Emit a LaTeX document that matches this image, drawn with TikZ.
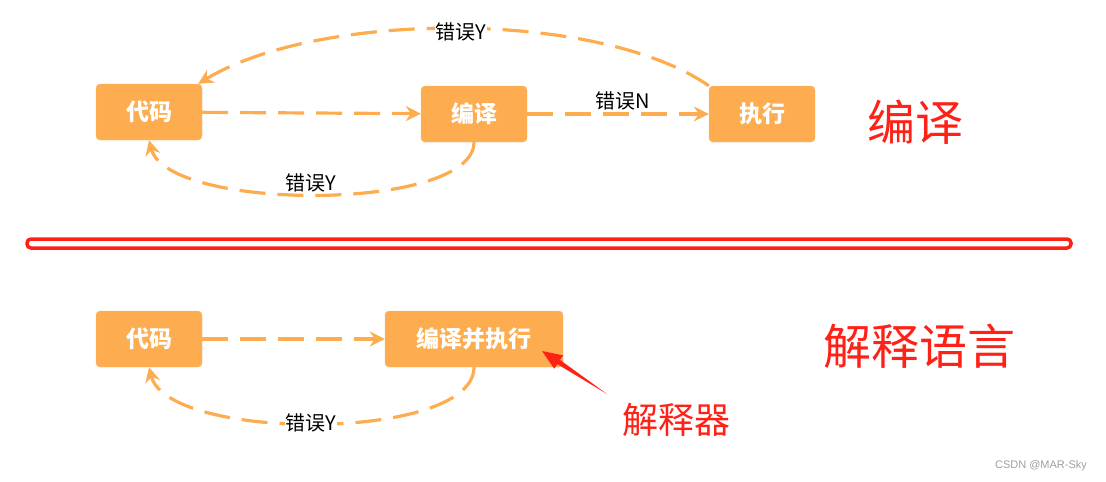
\documentclass[tikz,border=0pt]{standalone}
\usepackage{fontspec}
\usepackage{tikz}
\usetikzlibrary{arrows.meta,calc}
\setmainfont{Liberation Sans}
\newfontfamily\cjk{Noto Sans CJK SC}
\definecolor{boxorange}{RGB}{253,172,79}
\definecolor{markred}{RGB}{255,32,22}

\tikzset{
  stepbox/.style={fill=boxorange, draw=boxorange!85!white, rounded corners=4pt, minimum height=56pt,
    inner sep=0pt, text=white, font=\cjk\bfseries\fontsize{23}{23}\selectfont},
  flow/.style={boxorange, line width=3.2pt, dash pattern=on 26pt off 12pt,
    -{Stealth[length=15pt,width=15pt,inset=5pt]}},
  errlabel/.style={fill=white, inner sep=1pt, font=\cjk\fontsize{20}{20}\selectfont},
  bigred/.style={text=markred, font=\cjk\fontsize{48}{48}\selectfont},
}

\begin{document}
\begin{tikzpicture}[x=1pt, y=-1pt]
\useasboundingbox (0,0) rectangle (1106,482);

% compiled language
\node[stepbox, minimum width=106pt] (code) at (149,112) {代码};
\node[stepbox, minimum width=106pt] (compile) at (474,114) {编译};
\node[stepbox, minimum width=106pt] (run) at (762,114) {执行};
\node[bigred] (compname) at (915,122) {编译};

\draw[flow] (code) -- (compile);
\draw[flow] (compile) -- (run);
\draw[flow] (run.north west) .. controls (600,10) and (320,10) .. ([xshift=-4pt]code.north east);
\draw[flow] (compile.south) .. controls (474,212) and (168,212) .. (code.south);

\node[errlabel] (errtop) at (461,32) {错误Y};
\node[font=\cjk\fontsize{20}{20}\selectfont] (errn) at (623,101) {错误N};
\node[errlabel] (errback) at (311,183) {错误Y};

% separator
\draw[markred, line width=3.5pt, rounded corners=4pt] (27,239) rectangle (1071,248);

% interpreted language
\node[stepbox, minimum width=178pt] (interp) at (474,339) {编译并执行};
\node[stepbox, minimum width=106pt] (code2) at (149,339) {代码};
\node[bigred] (intname) at (919,346) {解释语言};

\draw[flow] (code2) -- (interp);
\draw[flow] (interp.south) .. controls (474,442) and (168,442) .. (code2.south);
\node[errlabel] (errback2) at (311,423) {错误Y};

% pointer to the interpreter
\node[text=markred, font=\cjk\fontsize{36}{36}\selectfont] (interpreter) at (676,420) {解释器};
\coordinate (ptrtail) at (607,394);
\coordinate (ptrtip) at (542,351);
\coordinate (ptrbase) at ($(ptrtip)!20pt!(ptrtail)$);
\fill[markred] (ptrtail) -- ($(ptrbase)!2.5pt!90:(ptrtip)$) -- ($(ptrbase)!8pt!90:(ptrtip)$) -- (ptrtip)
  -- ($(ptrbase)!8pt!-90:(ptrtip)$) -- ($(ptrbase)!2.5pt!-90:(ptrtip)$) -- cycle;

\node[text=gray!75, font=\fontsize{11}{11}\selectfont] (mark) at (1041,466) {CSDN @MAR-Sky};
\end{tikzpicture}
\end{document}
